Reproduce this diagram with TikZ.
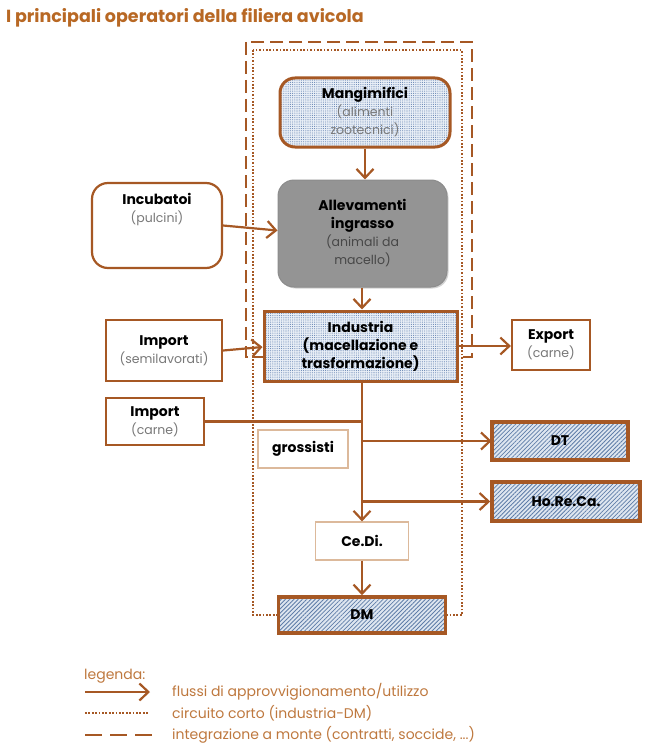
\documentclass[tikz,border=0pt]{standalone}
\usepackage{fontspec}
\setmainfont{Poppins}
\usetikzlibrary{arrows.meta,patterns.meta,shadows}
\definecolor{brn}{RGB}{166,88,36}
\definecolor{ttl}{RGB}{184,104,36}
\definecolor{lgd}{RGB}{190,120,62}
\definecolor{lbrn}{RGB}{220,185,155}
\definecolor{dotbg}{RGB}{232,238,246}
\definecolor{dotfg}{RGB}{105,135,180}
\definecolor{hatbg}{RGB}{222,230,240}
\definecolor{hatfg}{RGB}{95,125,168}
\definecolor{subg}{RGB}{120,120,120}
\newcommand{\bt}[1]{{\fontsize{14}{18}\selectfont\bfseries #1}}
\begin{document}
\begin{tikzpicture}[x=1pt,y=-1pt,
  every node/.style={font=\fontsize{12.5}{18}\selectfont, align=center, inner sep=0pt},
  flow/.style={draw=brn, line width=2.2pt, -{Straight Barb[length=9pt,width=17pt,line width=2.2pt]}},
  plain/.style={draw=brn, line width=2.2pt},
  dotbox/.style={draw=brn, line width=3pt, preaction={fill=dotbg}, pattern={Dots[distance=2.2pt,radius=0.55pt]}, pattern color=dotfg},
  hatbox/.style={draw=brn, line width=3.6pt, preaction={fill=hatbg}, pattern={Lines[angle=45,distance=3pt,line width=0.8pt]}, pattern color=hatfg},
  whitebox/.style={draw=brn, line width=2.2pt, fill=white},
  lightbox/.style={draw=lbrn, line width=1.2pt, fill=white},
  dotfr/.style={draw=brn, line width=2.4pt, dash pattern=on 1.7pt off 1.7pt},
  dashfr/.style={draw=brn, line width=2.4pt, dash pattern=on 13pt off 6pt},
]
\useasboundingbox (0,0) rectangle (645,749);

% title
\node[anchor=west, text=ttl, font=\fontsize{17.5}{20}\selectfont\bfseries] (title) at (6,18) {I principali operatori della filiera avicola};

% frames
\draw[dashfr] (246,42) rectangle (472,357);
\draw[dotfr] (253,50) rectangle (462,615);

% nodes
\node[dotbox, rounded corners=15pt, minimum width=170pt, minimum height=69pt] (mang) at (365,112.5)
  {\bt{Mangimifici}\\{\color{subg}(alimenti}\\{\color{subg}zootecnici)}};
\node[draw=black!45, line width=1pt, fill=black!42, rounded corners=16pt, drop shadow={opacity=0.35, shadow xshift=1.5pt, shadow yshift=-1.5pt},
  minimum width=169pt, minimum height=107pt] (alle) at (362.5,233.5)
  {\bt{Allevamenti}\\\bt{ingrasso}\\{\color{black!72}(animali da}\\{\color{black!72}macello)}};
\node[whitebox, rounded corners=16pt, minimum width=130pt, minimum height=85pt] (inc) at (157,225.5) {};
\node (inct) at (157,210) {\bt{Incubatoi}\\{\color{subg}(pulcini)}};

\node[dotbox, minimum width=193pt, minimum height=70pt] (ind) at (360.5,346)
  {\bt{Industria}\\\bt{(macellazione e}\\\bt{trasformazione)}};
\node[whitebox, minimum width=116pt, minimum height=61pt] (imps) at (164,350.5)
  {\bt{Import}\\{\color{subg}(semilavorati)}};
\node[whitebox, minimum width=78pt, minimum height=50pt] (exp) at (551,345)
  {\bt{Export}\\{\color{subg}(carne)}};
\node[whitebox, minimum width=98pt, minimum height=47pt] (impc) at (155,421.5)
  {\bt{Import}\\{\color{subg}(carne)}};
\node[lightbox, minimum width=90pt, minimum height=38pt] (gros) at (303,449) {\bt{grossisti}};
\node[hatbox, minimum width=136pt, minimum height=38pt] (dt) at (560,441) {\bt{DT}};
\node[hatbox, minimum width=148pt, minimum height=39pt] (hrc) at (566,501.5) {\bt{Ho.Re.Ca.}};
\node[lightbox, minimum width=93pt, minimum height=38pt] (cedi) at (362,541) {\bt{Ce.Di.}};
\node[hatbox, minimum width=167pt, minimum height=36pt] (dm) at (362,615) {\bt{DM}};

% connectors
\coordinate (spTop) at (362,381);
\draw[flow] (mang.south) -- (alle.north -| mang.south);
\draw[flow] (alle.south -| spTop) -- (ind.north -| spTop);
\draw[flow] (inc.east) -- ([yshift=3pt]alle.west);
\draw[flow] (imps.east) -- ([yshift=-1pt]ind.west);
\draw[flow] (ind.east) -- (ind.east -| exp.west);
\draw[flow] (spTop) -- (cedi.north);
\draw[plain] (impc.east) -- (impc.east -| spTop);
\draw[flow] (dt.west -| spTop) -- (dt.west);
\draw[flow] (hrc.west -| spTop) -- (hrc.west);
\draw[flow] (cedi.south) -- (dm.north);

% legend
\node[anchor=west, text=lgd, font=\fontsize{14}{16}\selectfont] (lg) at (84,676) {legenda:};
\coordinate (l1a) at (85,692); \coordinate (l1b) at (150,692);
\coordinate (l2a) at (85,713); \coordinate (l2b) at (148,713);
\coordinate (l3a) at (85,735); \coordinate (l3b) at (152,735);
\draw[flow] (l1a) -- (l1b);
\draw[dotfr] (l2a) -- (l2b);
\draw[dashfr, dash pattern=on 17pt off 8pt] (l3a) -- (l3b);
\node[anchor=west, text=lgd, font=\fontsize{14}{16}\selectfont] (lt1) at (172,692) {flussi di approvvigionamento/utilizzo};
\node[anchor=west, text=lgd, font=\fontsize{14}{16}\selectfont] (lt2) at (172,713) {circuito corto (industria-DM)};
\node[anchor=west, text=lgd, font=\fontsize{14}{16}\selectfont] (lt3) at (172,735) {integrazione a monte (contratti, soccide, ...)};
\end{tikzpicture}
\end{document}
